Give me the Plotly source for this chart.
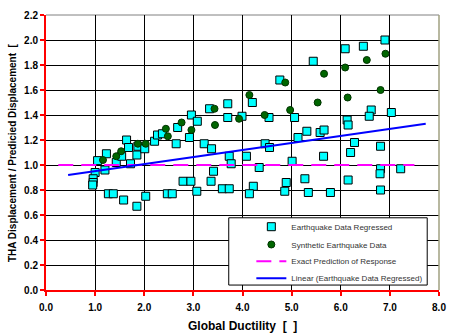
import plotly.graph_objects as go

# Earthquake data regressed (cyan squares)
eq_x = [1.05, 1.23, 1.64, 1.68, 1.43, 1.72, 1.00, 1.20, 0.96, 0.96, 0.95, 1.27, 1.37, 1.58, 1.85,
        1.85, 1.54, 1.87, 2.01, 2.03, 2.21, 2.27, 2.37, 2.65, 2.68, 2.92, 2.96, 3.08, 3.33, 3.70,
        3.70, 3.22, 3.37, 3.73, 3.41, 3.36, 2.79, 2.95, 3.07, 2.47, 2.57, 3.59, 3.73, 3.77, 4.08,
        4.20, 3.99, 4.54, 4.76, 5.06, 5.44, 5.31, 5.58, 5.66, 5.13, 4.46, 4.55, 5.65, 5.01, 4.34,
        5.27, 4.89, 4.22, 4.14, 4.86, 5.34, 5.79, 6.90, 6.09, 6.46, 6.62, 6.58, 7.03, 6.13, 6.15,
        6.28, 6.81, 6.20, 6.81, 6.80, 7.22, 6.15, 6.81]
eq_y = [1.035, 1.09, 1.20, 1.14, 1.02, 1.01, 0.94, 0.96, 0.89, 0.86, 0.84, 0.77, 0.77, 0.72, 0.67,
        1.08, 1.07, 1.15, 1.13, 0.75, 1.19, 1.24, 1.25, 1.17, 1.30, 1.22, 1.40, 1.35, 1.45, 1.49,
        1.38, 1.17, 1.13, 1.07, 0.95, 0.87, 0.87, 0.87, 0.79, 0.77, 0.77, 0.81, 0.81, 1.01, 1.07,
        1.50, 1.39, 1.38, 1.68, 1.38, 1.83, 1.27, 1.26, 1.28, 1.22, 1.17, 1.14, 1.07, 1.03, 0.98,
        0.89, 0.86, 0.83, 0.77, 0.79, 0.78, 0.78, 2.00, 1.93, 1.95, 1.44, 1.39, 1.42, 1.36, 1.32,
        1.18, 1.15, 1.10, 0.97, 0.93, 0.97, 0.88, 0.80]

# Synthetic earthquake data (green circles)
syn_x = [1.16, 1.43, 1.53, 1.87, 2.03, 2.44, 2.48, 2.76, 2.96, 3.43, 3.44, 3.93, 4.14, 4.45,
         4.87, 4.97, 5.53, 5.66, 6.09, 6.14, 6.53, 6.81, 6.91]
syn_y = [1.04, 1.07, 1.11, 1.17, 1.17, 1.29, 1.23, 1.34, 1.28, 1.45, 1.32, 1.37, 1.56, 1.40,
         1.66, 1.44, 1.50, 1.73, 1.78, 1.54, 1.84, 1.60, 1.89]

# Exact prediction line
exact_x = [0.25, 7.5]
exact_y = [1.0, 1.0]

# Linear trend (earthquake data regressed)
lin_x = [0.45, 7.73]
lin_y = [0.92, 1.33]

x_ticks = [0, 1, 2, 3, 4, 5, 6, 7, 8]
y_ticks = [0.0, 0.2, 0.4, 0.6, 0.8, 1.0, 1.2, 1.4, 1.6, 1.8, 2.0, 2.2]

FONT = "Arial, 'Liberation Sans', sans-serif"

W, H = 455, 336
L, R, T, B = 46, 9, 12, 46
pw, ph = W - L - R, H - T - B


def px2x(p):
    return (p - L) / pw


def px2y(p):
    return (H - B - p) / ph


fig = go.Figure()
fig.add_trace(go.Scatter(x=eq_x, y=eq_y, mode="markers", name="Earthquake Data Regressed",
                         legend="legend",
                         marker=dict(symbol="square", size=8, color="#00FFFF",
                                     line=dict(color="#000000", width=1))))
fig.add_trace(go.Scatter(x=syn_x, y=syn_y, mode="markers", name="Synthetic Earthquake Data",
                         legend="legend2",
                         marker=dict(symbol="circle", size=7, color="#006600",
                                     line=dict(color="#003300", width=1))))
fig.add_trace(go.Scatter(x=exact_x, y=exact_y, mode="lines", name="Exact Prediction of Response",
                         legend="legend3",
                         line=dict(color="#FF00FF", width=2, dash="15px,8px")))
fig.add_trace(go.Scatter(x=lin_x, y=lin_y, mode="lines", name="Linear (Earthquake Data Regressed)",
                         legend="legend4",
                         line=dict(color="#0000FF", width=2)))

row_y = [226, 244, 261, 278]
leg_common = dict(xanchor="left", yanchor="middle", bgcolor="rgba(0,0,0,0)", borderwidth=0,
                  font=dict(family=FONT, size=8, color="#333333"))

fig.update_layout(
    width=W, height=H,
    margin=dict(l=L, r=R, t=T, b=B, pad=0),
    paper_bgcolor="white", plot_bgcolor="white",
    font=dict(family=FONT, color="black"),
    showlegend=True,
    legend=dict(x=px2x(255), y=px2y(row_y[0]), **leg_common),
    legend2=dict(x=px2x(255), y=px2y(row_y[1]), **leg_common),
    legend3=dict(x=px2x(255), y=px2y(row_y[2]), **leg_common),
    legend4=dict(x=px2x(255), y=px2y(row_y[3]), **leg_common),
    shapes=[
        dict(type="line", xref="paper", yref="paper", x0=0, x1=1, y0=1, y1=1,
             line=dict(color="#808080", width=1), layer="below"),
        dict(type="line", xref="paper", yref="paper", x0=1, x1=1, y0=0, y1=1,
             line=dict(color="#A0A080", width=1.5), layer="above"),
        dict(type="rect", xref="paper", yref="paper",
             x0=px2x(232), x1=px2x(434), y0=px2y(285), y1=px2y(217),
             line=dict(color="black", width=1), fillcolor="white", layer="above"),
    ],
    annotations=[
        dict(text="<b>Global Ductility  [  ]</b>", xref="paper", yref="paper",
             x=0.5, y=px2y(326), xanchor="center", yanchor="middle", showarrow=False,
             font=dict(family=FONT, size=12, color="black")),
        dict(text="<b>THA Displacement / Predicied Displacement  [</b>", xref="paper", yref="paper",
             x=px2x(12), y=px2y(151), xanchor="center", yanchor="middle", showarrow=False,
             textangle=-90, font=dict(family=FONT, size=10, color="black")),
    ],
)

fig.update_xaxes(range=[0, 8], tickvals=x_ticks, tickformat=".1f",
                 showgrid=True, gridcolor="black", gridwidth=1, zeroline=False,
                 showline=True, linecolor="#FF0000", linewidth=2,
                 ticks="outside", tickcolor="#FF0000", ticklen=4, tickwidth=2,
                 ticklabelstandoff=3,
                 tickfont=dict(family=FONT, size=10, color="black", weight="bold"))
fig.update_yaxes(range=[0, 2.2], tickvals=y_ticks, tickformat=".1f",
                 showgrid=True, gridcolor="black", gridwidth=1, zeroline=False,
                 showline=True, linecolor="#FF0000", linewidth=2,
                 ticks="outside", tickcolor="#FF0000", ticklen=4, tickwidth=2,
                 tickfont=dict(family=FONT, size=10, color="black", weight="bold"))

fig.write_html("out.html")
